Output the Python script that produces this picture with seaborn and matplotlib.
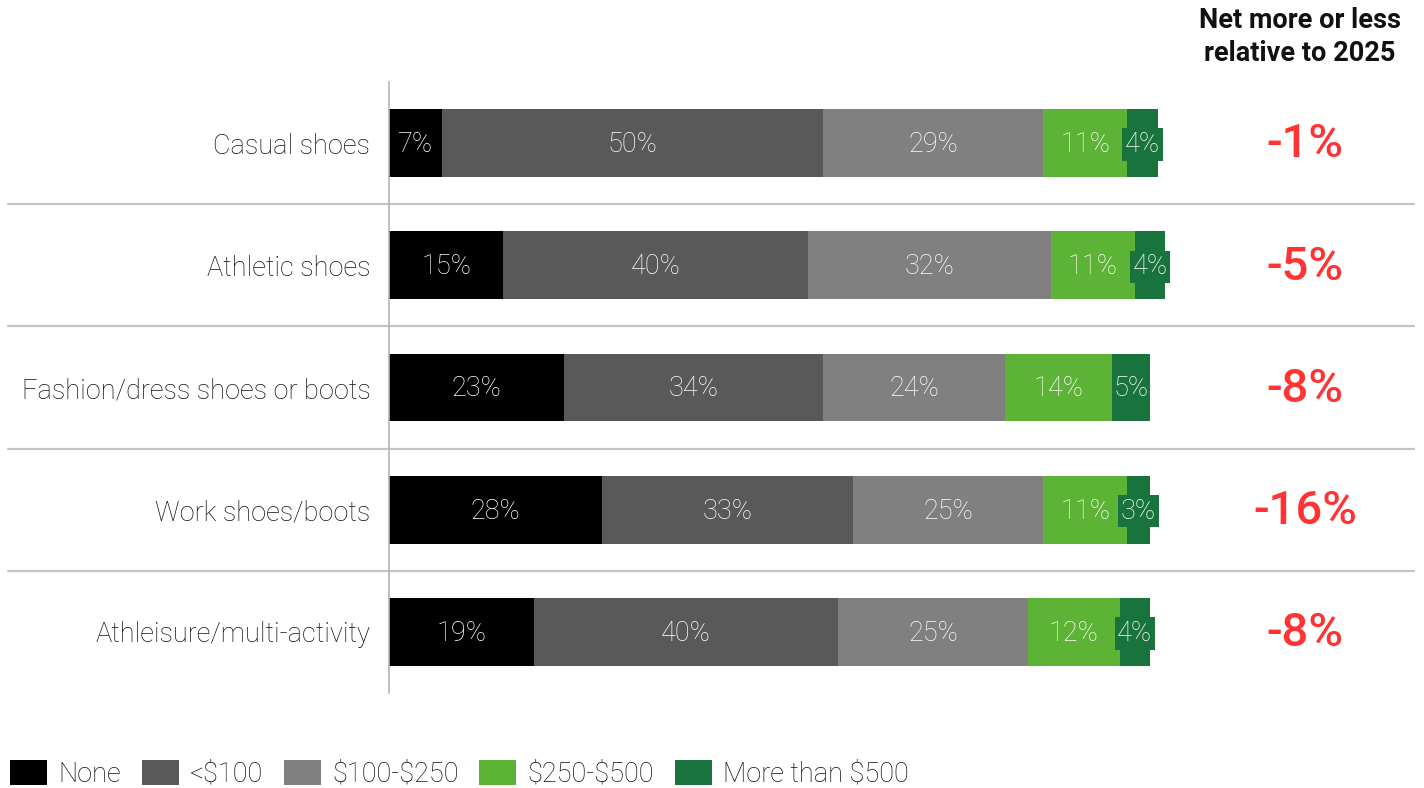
import matplotlib
matplotlib.use("Agg")
import matplotlib.pyplot as plt
from matplotlib.patches import Patch
import seaborn as sns
import numpy as np
import pandas as pd

categories = ["Casual shoes", "Athletic shoes", "Fashion/dress shoes or boots",
              "Work shoes/boots", "Athleisure/multi-activity"]
series_names = ["None", "<$100", "$100-$250", "$250-$500", "More than $500"]
none_vals = [7, 15, 23, 28, 19]
under100_vals = [50, 40, 34, 33, 40]
mid_vals = [29, 32, 24, 25, 25]
high_vals = [11, 11, 14, 11, 12]
top_vals = [4, 4, 5, 3, 4]
net_change = ["-1%", "-5%", "-8%", "-16%", "-8%"]
colors = ["#000000", "#595959", "#808080", "#5DB335", "#18733C"]

sns.set_theme(style="white")
plt.rcParams["font.family"] = ["Roboto", "DejaVu Sans"]
plt.rcParams["text.parse_math"] = False

values = np.array([none_vals, under100_vals, mid_vals, high_vals, top_vals], dtype=float)
cum = np.cumsum(values, axis=0)

W, H = 1424, 788
fig = plt.figure(figsize=(W / 100, H / 100), dpi=100)
ax_left, ax_right = 389, 1424
ax_top, ax_bot = 82, 693
ax = fig.add_axes([ax_left / W, 1 - ax_bot / H, (ax_right - ax_left) / W, (ax_bot - ax_top) / H])

px_per_pct = 7.61
xmax = (ax_right - ax_left) / px_per_pct

# stacked bars: draw cumulative totals from the outermost segment inward
for i in range(len(series_names) - 1, -1, -1):
    df = pd.DataFrame({"category": categories, "total": cum[i]})
    sns.barplot(data=df, x="total", y="category", orient="h", color=colors[i],
                width=0.555, saturation=1, ax=ax, linewidth=0)

# segment labels
for i in range(len(series_names)):
    for j in range(len(categories)):
        v = values[i, j]
        xc = cum[i, j] - v / 2
        kw = {}
        if v <= 4:
            kw["bbox"] = dict(boxstyle="square,pad=0.1", facecolor=colors[4], edgecolor="none")
        ax.text(xc, j + 0.012, f"{int(v)}%", ha="center", va="center", color="white",
                fontsize=19.5, fontweight="light", **kw)

# net change column
for j, s in enumerate(net_change):
    ax.text((1305 - ax_left) / px_per_pct, j + 0.01, s, ha="center", va="center",
            color="#FF3333", fontsize=34, fontweight="medium")
fig.text(1300 / W, 1 - 37 / H, "Net more or less\nrelative to 2025", ha="center", va="center",
         fontsize=19.5, fontweight="bold", color="#111111", linespacing=1.3)

ax.set_xlim(0, xmax)
ax.set_ylim(len(categories) - 0.5, -0.5)
ax.set_xlabel("")
ax.set_ylabel("")
ax.set_xticks([])
ax.tick_params(axis="y", length=0, pad=13.5, labelsize=19.5, labelcolor="#111111")
for lbl in ax.get_yticklabels():
    lbl.set_fontweight("light")
for side in ["top", "right", "bottom"]:
    ax.spines[side].set_visible(False)
ax.spines["left"].set_color("#B5B5B5")
ax.spines["left"].set_linewidth(1.2)

# row separators spanning the label column too
x0 = (8 - ax_left) / (ax_right - ax_left)
x1 = (1414 - ax_left) / (ax_right - ax_left)
for j in range(len(categories) - 1):
    ax.axhline(j + 0.5, xmin=x0, xmax=x1, color="#C4C4C4", lw=1.6, clip_on=False)

handles = [Patch(facecolor=c, edgecolor="none", label=n) for c, n in zip(colors, series_names)]
fs_leg = 19.5
fs_px = fs_leg / 0.72
leg = fig.legend(handles=handles, loc="center left", bbox_to_anchor=(10 / W, 1 - 774 / H),
                 ncol=5, frameon=False, fontsize=fs_leg, handlelength=37 / fs_px,
                 handleheight=27 / fs_px, handletextpad=11 / fs_px, columnspacing=21 / fs_px,
                 borderaxespad=0, borderpad=0)
for t in leg.get_texts():
    t.set_color("#111111")
    t.set_fontweight("light")

fig.savefig("out.png", dpi=100)
